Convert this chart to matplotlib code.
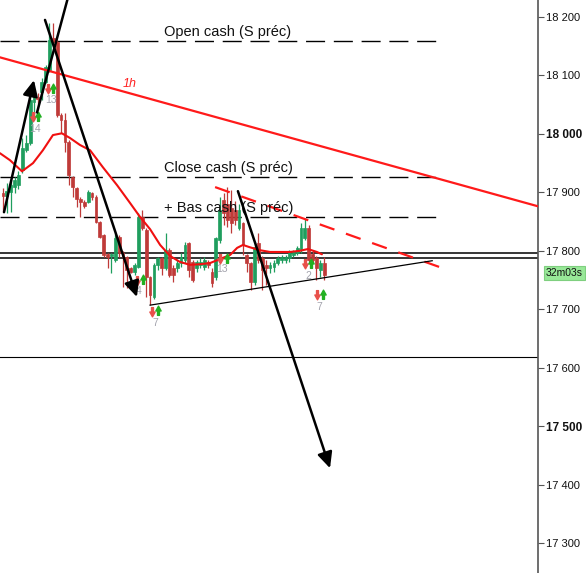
import numpy as np
import matplotlib
matplotlib.use('Agg')
import matplotlib.pyplot as plt
from matplotlib.path import Path
from matplotlib.ticker import FixedLocator, FuncFormatter

plt.rcParams['font.family'] = ['Liberation Sans', 'DejaVu Sans']

# candles (index order, left to right)
opens = [17899, 17893, 17900, 17909, 17912, 17938, 17972, 17984, 18054, 18063,
         18072, 18089, 18109, 18164, 18157, 18032, 18024, 17986, 17926, 17907,
         17888, 17883, 17883, 17899, 17892, 17849, 17827, 17794, 17791, 17784,
         17824, 17797, 17789, 17770, 17764, 17772, 17858, 17835, 17755, 17721,
         17776, 17788, 17770, 17801, 17770, 17770, 17779, 17784, 17813, 17781,
         17770, 17776, 17772, 17781, 17764, 17755, 17818, 17887, 17880, 17873,
         17870, 17839, 17847, 17793, 17779, 17747, 17813, 17788, 17776, 17770,
         17772, 17779, 17784, 17784, 17788, 17793, 17797, 17801, 17822, 17839,
         17794, 17788, 17767, 17779]
highs = [17907, 17916, 17921, 17926, 17936, 17993, 17998, 18063, 18072, 18070,
         18096, 18118, 18190, 18190, 18161, 18035, 18035, 17989, 17928, 17909,
         17892, 17887, 17904, 17900, 17895, 17851, 17829, 17796, 17797, 17830,
         17827, 17799, 17791, 17772, 17779, 17865, 17870, 17839, 17757, 17779,
         17789, 17789, 17830, 17805, 17776, 17784, 17797, 17815, 17815, 17784,
         17784, 17788, 17789, 17784, 17770, 17824, 17892, 17899, 17909, 17904,
         17885, 17880, 17849, 17795, 17781, 17815, 17830, 17791, 17784, 17781,
         17784, 17791, 17793, 17793, 17801, 17801, 17808, 17847, 17856, 17844,
         17801, 17791, 17784, 17789]
lows = [17866, 17864, 17866, 17899, 17905, 17933, 17969, 17981, 18024, 18041,
        18058, 18087, 18106, 18155, 18029, 18002, 17969, 17912, 17892, 17875,
        17858, 17873, 17882, 17887, 17847, 17822, 17789, 17770, 17762, 17781,
        17789, 17738, 17736, 17762, 17759, 17770, 17835, 17721, 17707, 17718,
        17767, 17759, 17767, 17755, 17747, 17764, 17772, 17779, 17755, 17747,
        17764, 17770, 17767, 17770, 17738, 17750, 17813, 17844, 17841, 17830,
        17844, 17835, 17793, 17764, 17733, 17741, 17779, 17733, 17741, 17762,
        17764, 17776, 17779, 17779, 17781, 17789, 17793, 17797, 17818, 17781,
        17779, 17750, 17755, 17750]
closes = [17894, 17902, 17912, 17921, 17930, 17976, 17984, 18058, 18066, 18060,
          18089, 18114, 18161, 18157, 18032, 18024, 17986, 17930, 17909, 17888,
          17883, 17877, 17900, 17892, 17849, 17824, 17793, 17789, 17795, 17822,
          17797, 17789, 17767, 17764, 17776, 17858, 17839, 17755, 17724, 17776,
          17788, 17770, 17801, 17759, 17759, 17779, 17789, 17810, 17767, 17750,
          17781, 17781, 17784, 17776, 17745, 17822, 17870, 17865, 17853, 17847,
          17853, 17870, 17810, 17779, 17747, 17806, 17784, 17767, 17770, 17776,
          17779, 17788, 17789, 17789, 17797, 17799, 17805, 17839, 17839, 17784,
          17784, 17770, 17779, 17759]

# red moving average
ma_idx = [-0.8, 1.8, 4.9, 7.75, 10.3, 12.9, 15.2, 17.3, 19.9, 22.5, 25.8, 29.5,
          32.8, 35.4, 38.0, 40.6, 43.2, 45.7, 48.3, 50.9, 53.5, 56.1, 58.7, 60.5,
          62.0, 63.8, 66.4, 69.0, 71.6, 74.2, 76.7, 78.8, 81.1, 82.4]
ma_val = [17967, 17955, 17936, 17950, 17972, 17998, 18001, 17993, 17981, 17972,
          17943, 17912, 17882, 17858, 17837, 17810, 17791, 17781, 17776, 17777,
          17779, 17786, 17793, 17805, 17810, 17806, 17801, 17798, 17798, 17798,
          17800, 17803, 17798, 17794]

# horizontal levels
cash_levels = [18159, 17926, 17858]
cash_labels = ['Open cash (S préc)', 'Close cash (S préc)', '+ Bas cash (S préc)']
cash_text_y = [18174, 17941, 17873]
solid_levels = [17797, 17788]
low_level = 17618

# drawn trend lines (index, price)
tl_1h = ([-0.8, 138.3], [18131, 17876])
tl_red = ([54.8, 115.0], [17909, 17767])
tl_support = ([38.0, 110.9], [17707, 17783])
arrows = [((0.26, 17866), (8.0, 18092)),
          ((10.85, 18195), (34.6, 17721)),
          ((60.7, 17902), (84.5, 17428))]
plain_line = ((8.8, 18037), (17.3, 18246))

# signals
sig_down = [(7.75, 18029), (11.6, 18077), (34.6, 17748), (38.5, 17695),
            (56.07, 17786), (78.0, 17777), (81.1, 17724)]
sig_up = [(9.04, 18031), (12.9, 18078), (36.2, 17752), (40.05, 17699),
          (57.9, 17788), (79.6, 17779), (82.7, 17726)]
sig_lbl = [(8.27, 18008, '14'), (12.4, 18058, '13'), (35.1, 17731, '4'),
           (39.3, 17676, '7'), (56.6, 17769, '13'), (78.8, 17757, '2'),
           (81.7, 17704, '7')]

yticks = [17300, 17400, 17500, 17600, 17700, 17800, 17900, 18000, 18100, 18200]

green = '#1f9e5e'
red = '#bf3a38'

fig = plt.figure(figsize=(5.86, 5.73), dpi=100)
ax = fig.add_axes([0, 0, 538 / 586, 1])
ax.set_xlim(-0.78, 138.24)
ax.set_ylim(17248.7, 18229.1)

x = np.arange(len(opens))
o = np.array(opens); c = np.array(closes)
h = np.array(highs); l = np.array(lows)
cols = np.where(c >= o, green, red)
ax.vlines(x, l, h, colors=cols, lw=0.9, zorder=3)
ax.bar(x, np.maximum(np.abs(c - o), 2), bottom=np.minimum(o, c), width=0.72,
       color=cols, edgecolor=cols, lw=0.5, zorder=4)

ax.plot(ma_idx, ma_val, color='#f01010', lw=1.5, zorder=5, solid_capstyle='round')

for lev in cash_levels:
    ax.plot([-0.78, 112.8], [lev, lev], color='black', lw=1.0,
            dashes=(13.7, 6.3), zorder=2)
for lab, ty in zip(cash_labels, cash_text_y):
    ax.text(41.6, ty, lab, fontsize=10.5, va='center', ha='left', color='#111111', zorder=6)

for lev in solid_levels:
    ax.axhline(lev, color='black', lw=1.1, zorder=2)
ax.axhline(low_level, color='black', lw=0.8, zorder=2)

ax.plot(*tl_1h, color='#ff1a1a', lw=1.6, zorder=5)
ax.text(32.6, 18085, '1h', color='#ff2020', fontsize=9, style='italic', ha='center', va='center')
ax.plot(*tl_red, color='#ff1a1a', lw=1.6, dashes=(7, 5.5), zorder=5)
ax.plot(*tl_support, color='black', lw=0.9, zorder=5)

for (x0, y0), (x1, y1) in arrows:
    ax.annotate('', xy=(x1, y1), xytext=(x0, y0),
                arrowprops=dict(arrowstyle='-|>,head_length=0.95,head_width=0.45',
                                color='black', lw=1.8, shrinkA=0, shrinkB=0),
                zorder=7)
ax.plot([plain_line[0][0], plain_line[1][0]], [plain_line[0][1], plain_line[1][1]],
        color='black', lw=1.8, zorder=7)

down_path = Path([(-0.2, 1), (0.2, 1), (0.2, 0.1), (0.55, 0.1), (0, -0.9),
                  (-0.55, 0.1), (-0.2, 0.1), (-0.2, 1)], closed=True)
up_path = Path([(px, -py) for px, py in down_path.vertices], closed=True)
for px, py in sig_down:
    ax.plot(px, py, marker=down_path, ms=7, color='#e8504a', mec='#e8504a', zorder=6)
for px, py in sig_up:
    ax.plot(px, py, marker=up_path, ms=7, color='#22b022', mec='#22b022', zorder=6)
for px, py, t in sig_lbl:
    ax.text(px, py, t, fontsize=7.5, color='#a3a3ad', ha='center', va='center', zorder=5)

for s in ['top', 'left', 'bottom']:
    ax.spines[s].set_visible(False)
ax.spines['right'].set_color('#555555')
ax.spines['right'].set_linewidth(1.2)
ax.set_xticks([])
ax.yaxis.tick_right()
ax.yaxis.set_major_locator(FixedLocator(yticks))
ax.yaxis.set_major_formatter(FuncFormatter(lambda v, p: f'{int(v):,}'.replace(',', ' ')))
ax.tick_params(axis='y', length=4, width=0.8, color='#555555', labelsize=8,
               labelcolor='#111111', pad=2)
for tl in ax.get_yticklabels():
    if tl.get_text() in ('18 000', '17 500'):
        tl.set_fontweight('bold')
        tl.set_fontsize(8.5)

fig.text(546 / 586, 1 - 273 / 573, '32m03s', fontsize=7.5, va='center', ha='left',
         color='#111111',
         bbox=dict(boxstyle='square,pad=0.22', fc='#98e898', ec='#7fcf7f', lw=0.8))

fig.savefig('out.png', dpi=100, facecolor='white')
